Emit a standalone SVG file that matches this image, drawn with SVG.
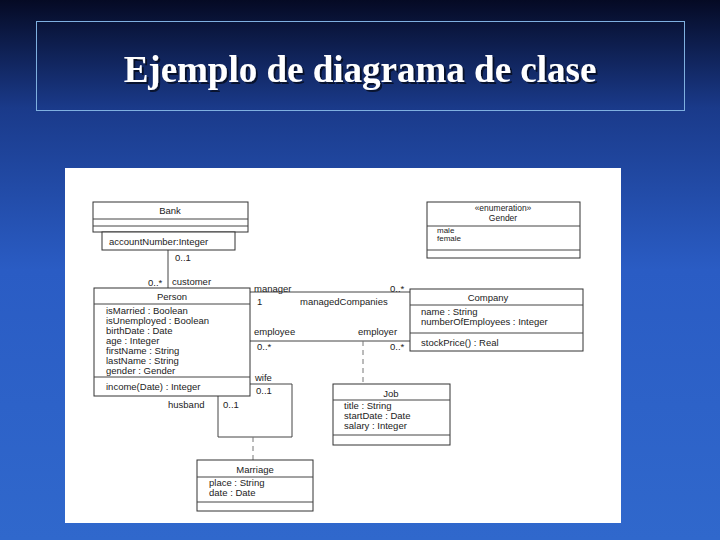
<svg xmlns="http://www.w3.org/2000/svg" width="720" height="540" viewBox="0 0 720 540">
<defs>
<linearGradient id="bg" x1="0" y1="0" x2="0" y2="1">
<stop offset="0" stop-color="#050a24"/>
<stop offset="0.2" stop-color="#1a3a8a"/>
<stop offset="0.5" stop-color="#2a5cc4"/>
<stop offset="1" stop-color="#3068cc"/>
</linearGradient>
<filter id="sh" x="-5%" y="-20%" width="110%" height="140%">
<feDropShadow dx="2" dy="2" stdDeviation="0.5" flood-color="#000" flood-opacity="0.6"/>
</filter>
<style>
.b{fill:#fff;stroke:#333;stroke-width:1}
.l{fill:none;stroke:#444;stroke-width:1}
.d{fill:none;stroke:#777;stroke-width:1;stroke-dasharray:5,4}
text{font-family:"Liberation Sans",Arial,sans-serif;font-size:9.5px;fill:#222}
.c{text-anchor:middle}
</style>
</defs>
<rect width="720" height="540" fill="url(#bg)"/>
<rect x="36.5" y="21.5" width="648" height="89" fill="none" stroke="#7fb0e0" stroke-width="1"/>
<text x="360" y="82" filter="url(#sh)" style="font-family:'Liberation Serif','Times New Roman',serif;font-size:37px;font-weight:bold;fill:#fff" text-anchor="middle">Ejemplo de diagrama de clase</text>
<rect x="65" y="168" width="556" height="355" fill="#fff"/>
<g id="connectors">
<path class="l" d="M168 250V288"/>
<path class="l" d="M250 292H410"/>
<path class="l" d="M250 341H410"/>
<path class="d" d="M363 341V384"/>
<path class="l" d="M250 384H292V437H218V396"/>
<path class="d" d="M253 437V460"/>
<text x="175" y="261">0..1</text>
<text x="148" y="286">0..*</text>
<text x="172" y="285">customer</text>
<text x="254" y="292">manager</text>
<text x="257" y="305">1</text>
<text x="300" y="305">managedCompanies</text>
<text x="390" y="292">0..*</text>
<text x="254" y="335">employee</text>
<text x="257" y="350">0..*</text>
<text x="358" y="335">employer</text>
<text x="390" y="350">0..*</text>
<text x="255" y="381">wife</text>
<text x="256" y="394">0..1</text>
<text x="168" y="408">husband</text>
<text x="223" y="408">0..1</text>
</g>
<g id="bank">
<rect class="b" x="93" y="202" width="155" height="30"/>
<path class="l" d="M93 219H248M93 226H248"/>
<text class="c" x="170" y="214">Bank</text>
<rect class="b" x="102" y="232" width="133" height="18"/>
<text x="109" y="245">accountNumber:Integer</text>
</g>
<g id="gender">
<rect class="b" x="427" y="202" width="153" height="56"/>
<path class="l" d="M427 226H580M427 250H580"/>
<text class="c" x="503" y="211" style="font-size:8.5px">«enumeration»</text>
<text class="c" x="503" y="221" style="font-size:8.5px">Gender</text>
<text x="437" y="233" style="font-size:8px">male</text>
<text x="437" y="241" style="font-size:8px">female</text>
</g>
<g id="person">
<rect class="b" x="94" y="288" width="156" height="108"/>
<path class="l" d="M94 304H250M94 377H250"/>
<text class="c" x="172" y="300">Person</text>
<text x="106" y="314">isMarried : Boolean</text>
<text x="106" y="324">isUnemployed : Boolean</text>
<text x="106" y="334">birthDate : Date</text>
<text x="106" y="344">age : Integer</text>
<text x="106" y="354">firstName : String</text>
<text x="106" y="364">lastName : String</text>
<text x="106" y="374">gender : Gender</text>
<text x="106" y="390">income(Date) : Integer</text>
</g>
<g id="company">
<rect class="b" x="410" y="289" width="173" height="62"/>
<path class="l" d="M410 305H583M410 333H583"/>
<text class="c" x="488" y="301">Company</text>
<text x="421" y="315">name : String</text>
<text x="421" y="325">numberOfEmployees : Integer</text>
<text x="421" y="346">stockPrice() : Real</text>
</g>
<g id="job">
<rect class="b" x="333" y="384" width="117" height="61"/>
<path class="l" d="M333 400H450M333 435H450"/>
<text class="c" x="391" y="397">Job</text>
<text x="344" y="409">title : String</text>
<text x="344" y="419">startDate : Date</text>
<text x="344" y="429">salary : Integer</text>
</g>
<g id="marriage">
<rect class="b" x="197" y="460" width="116" height="51"/>
<path class="l" d="M197 477H313M197 502H313"/>
<text class="c" x="255" y="473">Marriage</text>
<text x="209" y="486">place : String</text>
<text x="209" y="496">date : Date</text>
</g>
</svg>
